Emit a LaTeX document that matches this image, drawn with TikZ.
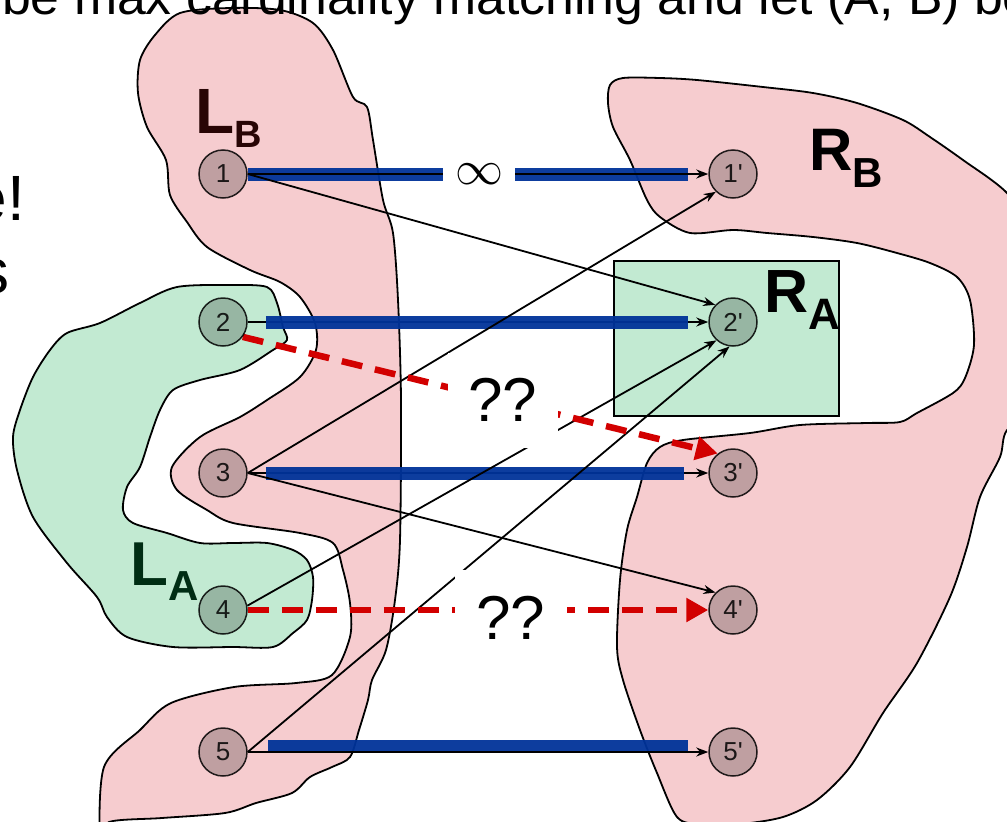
\documentclass[tikz,border=0pt]{standalone}
\usepackage{graphicx}
\usepackage{fontspec}
\newfontfamily\arial{Liberation Sans}
\usetikzlibrary{arrows.meta}

\definecolor{regionpink}{RGB}{246,204,207}
\definecolor{regiongreen}{RGB}{194,234,210}
\definecolor{matchblue}{RGB}{0,51,153}
\definecolor{altred}{RGB}{210,0,0}
\definecolor{lbink}{RGB}{40,5,5}
\definecolor{laink}{RGB}{0,45,20}

\pgfdeclarelayer{back}
\pgfdeclarelayer{mid}
\pgfsetlayers{back,mid,main}

\begin{document}
\begin{tikzpicture}[x=1pt,y=-1pt,
  region/.style={draw=black, line width=1.8pt, line join=round},
  vtx/.style={circle, minimum size=48pt, inner sep=0pt, draw=black, draw opacity=0.85,
    line width=1.5pt, fill=black, fill opacity=0.22, text opacity=0.85,
    font=\arial\fontsize{26}{26}\selectfont},
  thin arrow/.style={line width=1.8pt, -{Stealth[length=12pt,width=9pt]}},
  matchbar/.style={line width=13pt, matchblue, opacity=0.95},
  alt arrow/.style={line width=6.5pt, altred, dash pattern=on 21pt off 13pt,
    -{Triangle[length=22pt,width=23pt]}},
  gapbox/.style={fill=white, inner sep=0pt},
  setname/.style={anchor=base west, inner sep=0pt, font=\arial\bfseries},
]
\useasboundingbox (0,0) rectangle (1007,822);
\clip (0,0) rectangle (1007,822);

% ---------- vertices ----------
\node[vtx] (a1) at (223,174) {1};
\node[vtx] (a2) at (223,322) {2};
\node[vtx] (a3) at (223,473) {3};
\node[vtx] (a4) at (223,610) {4};
\node[vtx] (a5) at (223,752) {5};
\node[vtx] (b1) at (733,174) {1'};
\node[vtx] (b2) at (733,322) {2'};
\node[vtx] (b3) at (733,473) {3'};
\node[vtx] (b4) at (733,610) {4'};
\node[vtx] (b5) at (733,752) {5'};

% ---------- labels that interrupt the edges ----------
\node[gapbox, minimum width=72pt, minimum height=26pt]
  (inf) at (479,174) {\resizebox{48pt}{!}{$\infty$}};
\node[gapbox, minimum width=110pt, minimum height=95pt, font=\arial\fontsize{62}{62}\selectfont]
  (q1) at (503,400) {??};
\node[gapbox, minimum width=112pt, minimum height=96pt, font=\arial\fontsize{62}{62}\selectfont]
  (q2) at (511,618) {??};

% ---------- surrounding text ----------
\node[anchor=base west, inner sep=0pt, font=\arial\fontsize{50}{50}\selectfont]
  (head) at (2,14) {\scalebox{1.035}[1]{be max cardinality matching and let (A, B) be}};
\node[anchor=base east, inner sep=0pt, font=\arial\fontsize{64}{64}\selectfont]
  (side1) at (25,220) {e!};
\node[anchor=base east, inner sep=0pt, font=\arial\fontsize{64}{64}\selectfont]
  (side2) at (10,293) {s};

% ---------- regions ----------
\begin{pgfonlayer}{back}
\draw[region, fill=regionpink] plot[smooth cycle, tension=0.5] coordinates {
  (180,13) (230,8) (280,10) (313,23) (333,50) (353,97) (367,107) (373,140)
  (383,200) (393,233) (398,300) (401,400) (400,540) (395,600) (386,650)
  (372,680) (368,700) (359,730) (350,757) (332,767) (310,777) (292,793)
  (256,803) (225,813) (162,818) (109,822) (100,840) (104,767) (140,730)
  (171,703) (234,687) (296,683) (332,675) (350,637) (350,603) (343,570)
  (333,543) (300,533) (233,523) (207,510) (177,490) (172,467) (200,437)
  (240,417) (267,400) (300,377) (316,350) (315,323) (300,297) (280,282)
  (250,270) (207,247) (187,222) (170,195) (166,160) (147,127) (138,93)
  (140,60) (155,35)};
\draw[region, fill=regiongreen] plot[smooth cycle, tension=0.5] coordinates {
  (177,287) (230,285) (267,287) (277,303) (283,327) (287,340) (273,350)
  (240,370) (200,380) (173,390) (160,410) (150,437) (140,467) (127,487)
  (123,510) (133,523) (167,533) (200,543) (233,543) (267,543) (293,550)
  (307,560) (313,577) (312,600) (307,620) (293,633) (273,647) (233,647)
  (173,647) (127,637) (107,617) (97,597) (67,563) (33,517) (17,470)
  (13,437) (20,410) (33,377) (50,350) (67,333) (100,323) (140,303)};
\draw[region, fill=regionpink] plot[smooth cycle, tension=0.5] coordinates {
  (610,85) (623,78) (660,78) (697,80) (763,87) (813,93) (857,103) (903,120)
  (930,137) (963,160) (1007,193) (1040,240) (1040,400) (1007,430) (1000,457)
  (980,497) (967,547) (950,597) (917,663) (883,713) (850,767) (817,800)
  (783,817) (740,824) (700,824) (677,817) (657,773) (640,730) (623,680)
  (617,647) (620,580) (627,530) (637,497) (647,463) (660,447) (683,440)
  (750,433) (800,425) (867,423) (900,422) (917,413) (953,393) (965,378)
  (974,345) (970,300) (957,277) (930,263) (897,253) (857,243) (813,237)
  (767,233) (733,230) (690,233) (660,217) (647,200) (630,160) (613,127)
  (608,103)};
\draw[line width=1.5pt, fill=regiongreen] (614,261) rectangle (839,416);

% set names
\node[setname, text=lbink, font=\arial\bfseries\fontsize{64}{64}\selectfont] (lb) at (195,133)
  {L\raisebox{-14pt}{\fontsize{38}{38}\selectfont B}};
\node[setname, text=laink, font=\arial\bfseries\fontsize{62}{62}\selectfont] (la) at (130,585)
  {L\raisebox{-15pt}{\fontsize{42}{42}\selectfont A}};
\node[setname, font=\arial\bfseries\fontsize{60}{60}\selectfont] (rb) at (809,170)
  {R\raisebox{-17pt}{\fontsize{42}{42}\selectfont B}};
\node[setname, font=\arial\bfseries\fontsize{61}{61}\selectfont] (ra) at (764,312)
  {R\raisebox{-17pt}{\fontsize{44}{44}\selectfont A}};
\end{pgfonlayer}

% ---------- edges ----------
\begin{pgfonlayer}{mid}
% matched pairs hidden under their bars
\draw[thin arrow] (a2) -- (b2);
\draw[thin arrow] (a3) -- (b3);
% matching bars
\draw[matchbar] (a1.east) -- ([xshift=-20pt]b1.west);
\draw[matchbar] ([xshift=18pt]a2.east) -- ([xshift=-20pt]b2.west);
\draw[matchbar] ([xshift=18pt]a3.east) -- ([xshift=-24pt]b3.west);
\draw[matchbar] ([xshift=20pt,yshift=6pt]a5.east) -- ([xshift=-20pt,yshift=6pt]b5.west);
% matched pairs drawn over their bars
\draw[thin arrow] (a1) -- (b1);
\draw[thin arrow] (a5) -- (b5);
% other edges
\draw[thin arrow] (a1.east) -- (b2.136);
\draw[thin arrow] (a3.east) -- (b1.226);
\draw[thin arrow] (a3.east) -- (b4.135);
\draw[thin arrow] (a4.10) -- (b2.228);
\draw[thin arrow] (a5.east) -- (b2.262);
% alternating candidates
\draw[alt arrow] (a2.-37) -- (b3.128);
\draw[alt arrow] (a4) -- (b4);
\end{pgfonlayer}
\end{tikzpicture}
\end{document}
